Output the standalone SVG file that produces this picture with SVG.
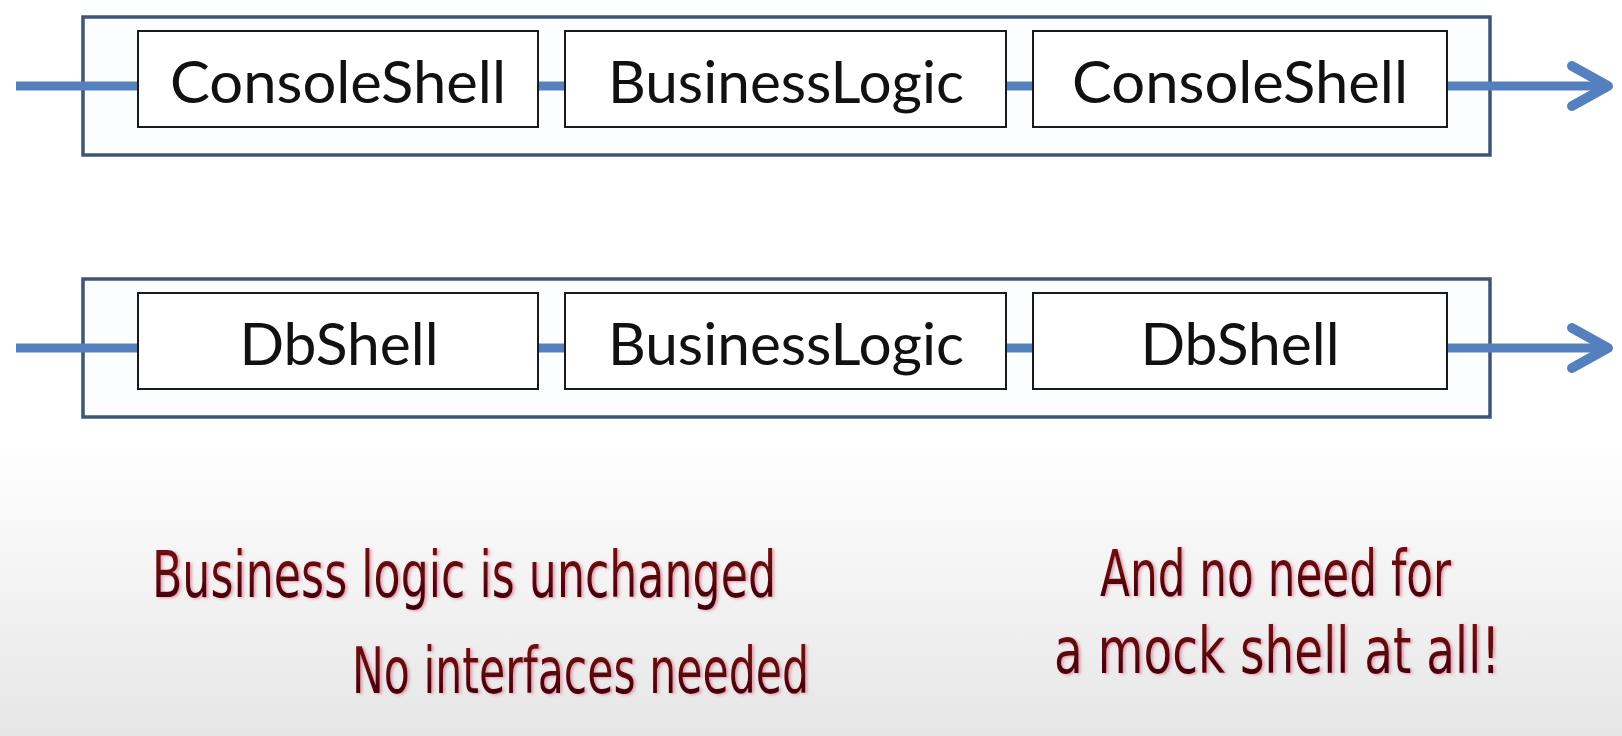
<svg xmlns="http://www.w3.org/2000/svg" width="1622" height="736" viewBox="0 0 1622 736">
  <defs>
    <linearGradient id="bg" x1="0" y1="0" x2="0" y2="1">
      <stop offset="0" stop-color="#ffffff"/>
      <stop offset="0.6" stop-color="#ffffff"/>
      <stop offset="1" stop-color="#e6e6e6"/>
    </linearGradient>
    <linearGradient id="ink" x1="0" y1="0" x2="0" y2="1">
      <stop offset="0" stop-color="#7a0a14"/>
      <stop offset="1" stop-color="#3a0406"/>
    </linearGradient>
    <filter id="glow" filterUnits="userSpaceOnUse" x="0" y="450" width="1622" height="286">
      <feDropShadow dx="2" dy="1" stdDeviation="1.5" flood-color="#e0607a" flood-opacity="0.6"/>
    </filter>
    <style>
      .outer { fill: #fbfdff; stroke: #3f5578; stroke-width: 3.5; }
      .inner { fill: #ffffff; stroke: #1a1a1a; stroke-width: 2; }
      .lbl { font-family: "Lato", "Open Sans", sans-serif; font-size: 58px; fill: #111111; text-anchor: middle; }
      .wire { stroke: #5580be; stroke-width: 9; fill: none; }
      .head { stroke: #5580be; stroke-width: 10; fill: none; stroke-linecap: round; stroke-linejoin: round; }
      .note { font-family: "Liberation Sans Narrow", "DejaVu Sans Condensed", "Liberation Sans", sans-serif; font-size: 64px; fill: url(#ink); }
    </style>
  </defs>

  <rect x="0" y="0" width="1622" height="736" fill="url(#bg)"/>

  <g id="pipeline1">
    <rect class="outer" x="83" y="17" width="1407" height="138"/>
  </g>
  <g id="pipeline2">
    <rect class="outer" x="83" y="279" width="1407" height="138"/>
  </g>

  <g id="connectors">
    <line class="wire" x1="16" y1="86" x2="138" y2="86"/>
    <line class="wire" x1="538" y1="86" x2="565" y2="86"/>
    <line class="wire" x1="1006" y1="86" x2="1033" y2="86"/>
    <line class="wire" x1="1447" y1="86" x2="1604" y2="86"/>
    <polyline class="head" points="1572,66 1608,86 1572,106"/>

    <line class="wire" x1="16" y1="348" x2="138" y2="348"/>
    <line class="wire" x1="538" y1="348" x2="565" y2="348"/>
    <line class="wire" x1="1006" y1="348" x2="1033" y2="348"/>
    <line class="wire" x1="1447" y1="348" x2="1604" y2="348"/>
    <polyline class="head" points="1572,328 1608,348 1572,368"/>
  </g>

  <g id="consoleshell-in">
    <rect class="inner" x="138" y="31" width="400" height="96"/>
    <text class="lbl" x="338" y="103" textLength="336" lengthAdjust="spacingAndGlyphs">ConsoleShell</text>
  </g>
  <g id="businesslogic-1">
    <rect class="inner" x="565" y="31" width="441" height="96"/>
    <text class="lbl" x="786" y="103" textLength="356" lengthAdjust="spacingAndGlyphs">BusinessLogic</text>
  </g>
  <g id="consoleshell-out">
    <rect class="inner" x="1033" y="31" width="414" height="96"/>
    <text class="lbl" x="1240" y="103" textLength="336" lengthAdjust="spacingAndGlyphs">ConsoleShell</text>
  </g>

  <g id="dbshell-in">
    <rect class="inner" x="138" y="293" width="400" height="96"/>
    <text class="lbl" x="339" y="365" textLength="199" lengthAdjust="spacingAndGlyphs">DbShell</text>
  </g>
  <g id="businesslogic-2">
    <rect class="inner" x="565" y="293" width="441" height="96"/>
    <text class="lbl" x="786" y="365" textLength="356" lengthAdjust="spacingAndGlyphs">BusinessLogic</text>
  </g>
  <g id="dbshell-out">
    <rect class="inner" x="1033" y="293" width="414" height="96"/>
    <text class="lbl" x="1240" y="365" textLength="199" lengthAdjust="spacingAndGlyphs">DbShell</text>
  </g>

  <g id="notes" filter="url(#glow)">
    <text class="note" x="152" y="597" textLength="624" lengthAdjust="spacingAndGlyphs">Business logic is unchanged</text>
    <text class="note" x="352" y="693" textLength="457" lengthAdjust="spacingAndGlyphs">No interfaces needed</text>
    <text class="note" x="1100" y="596" textLength="351" lengthAdjust="spacingAndGlyphs">And no need for</text>
    <text class="note" x="1054" y="673" textLength="446" lengthAdjust="spacingAndGlyphs">a mock shell at all!</text>
  </g>
</svg>
